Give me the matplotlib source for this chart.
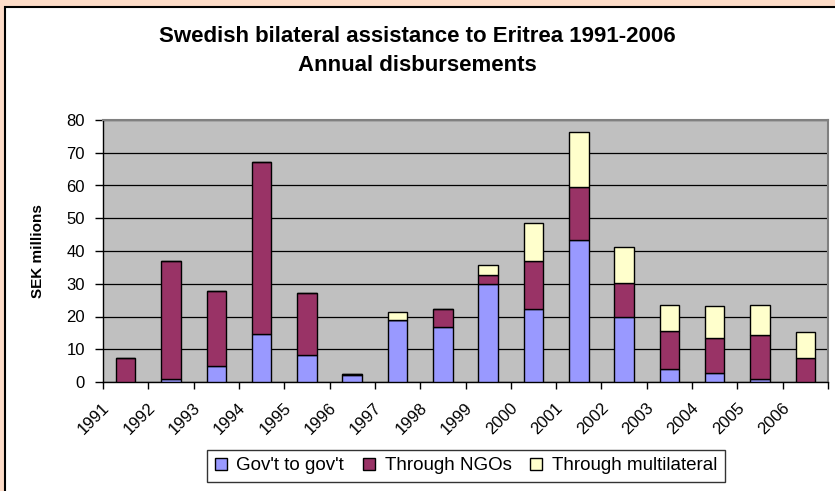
import matplotlib
matplotlib.use("Agg")
import matplotlib.pyplot as plt
import numpy as np
from matplotlib.patches import Rectangle
from matplotlib.transforms import ScaledTranslation

plt.rcParams['font.family'] = ['Liberation Sans', 'DejaVu Sans']

# =================================== Data ===================================

years = [str(y) for y in range(1991, 2007)]
govt = [0.0, 0.9, 4.8, 14.7, 8.3, 2.0, 18.9, 16.8, 30.0, 22.4, 43.4, 19.9, 4.1, 2.7, 0.9, 0.0]
ngos = [7.3, 35.9, 23.1, 52.4, 18.8, 0.4, 0.0, 5.4, 2.8, 14.6, 16.0, 10.2, 11.5, 10.8, 13.5, 7.2]
multi = [0.0, 0.0, 0.0, 0.0, 0.0, 0.0, 2.4, 0.2, 2.9, 11.7, 16.8, 11.1, 8.0, 9.7, 9.2, 8.0]

series = [("Gov't to gov't", govt, '#9999FF'),
          ("Through NGOs", ngos, '#993366'),
          ("Through multilateral", multi, '#FFFFCC')]

# =================================== Figure ===================================

fig = plt.figure(figsize=(8.35, 4.91), dpi=100, facecolor='#FDDCC8')
W, H = 835, 491
fig.patches.append(Rectangle((5 / W, -0.1), 1.2, (H - 7) / H + 0.1,
                             transform=fig.transFigure, facecolor='white',
                             edgecolor='black', linewidth=1.5, zorder=-5))

ax = fig.add_axes([103 / W, (H - 382) / H, (828 - 103) / W, (382 - 120) / H])
ax.set_facecolor('#C0C0C0')

x = np.arange(len(years))
bottom = np.zeros(len(years))
for label, vals, color in series:
    vals = np.array(vals)
    ax.bar(x, vals, width=0.43, bottom=bottom, color=color, edgecolor='black',
           linewidth=1.0, label=label, zorder=3)
    bottom += vals

ax.set_xlim(-0.5, len(years) - 0.5)
ax.set_ylim(0, 80)
ax.set_yticks(range(0, 81, 10))
ax.yaxis.grid(True, color='black', linewidth=0.9, zorder=1)
ax.set_axisbelow(True)

ax.set_xticks(np.arange(-0.5, len(years)), labels=[])
ax.set_xticks(x, minor=True)
ax.set_xticklabels(years, minor=True, rotation=45, ha='right', fontsize=12)
ax.tick_params(axis='x', which='major', direction='out', length=5, width=1)
ax.tick_params(axis='x', which='minor', length=0, pad=13)
ax.tick_params(axis='y', direction='out', length=6, width=1, labelsize=12, pad=7)
for lab in ax.get_xticklabels(minor=True):
    lab.set_transform(lab.get_transform() + ScaledTranslation(-13 / 100, 0, fig.dpi_scale_trans))

for s in ['left', 'bottom']:
    ax.spines[s].set_color('black')
    ax.spines[s].set_linewidth(1.0)
for s in ['top', 'right']:
    ax.spines[s].set_color('#808080')
    ax.spines[s].set_linewidth(1.5)

ax.set_ylabel('SEK millions', fontsize=11, fontweight='bold', labelpad=15)

fig.text(0.5, (H - 51) / H, 'Swedish bilateral assistance to Eritrea 1991-2006\nAnnual disbursements',
         ha='center', va='center', fontsize=16, fontweight='bold', linespacing=1.45)

leg = fig.legend(loc='center', bbox_to_anchor=(466 / W, (H - 466) / H), ncol=3,
                 fontsize=13.5, frameon=True, fancybox=False, edgecolor='black',
                 handlelength=0.65, handleheight=0.65, handletextpad=0.5,
                 columnspacing=1.0, borderpad=0.4, borderaxespad=0)
leg.get_frame().set_linewidth(1.0)

fig.savefig('out.png', dpi=100, facecolor=fig.get_facecolor())
